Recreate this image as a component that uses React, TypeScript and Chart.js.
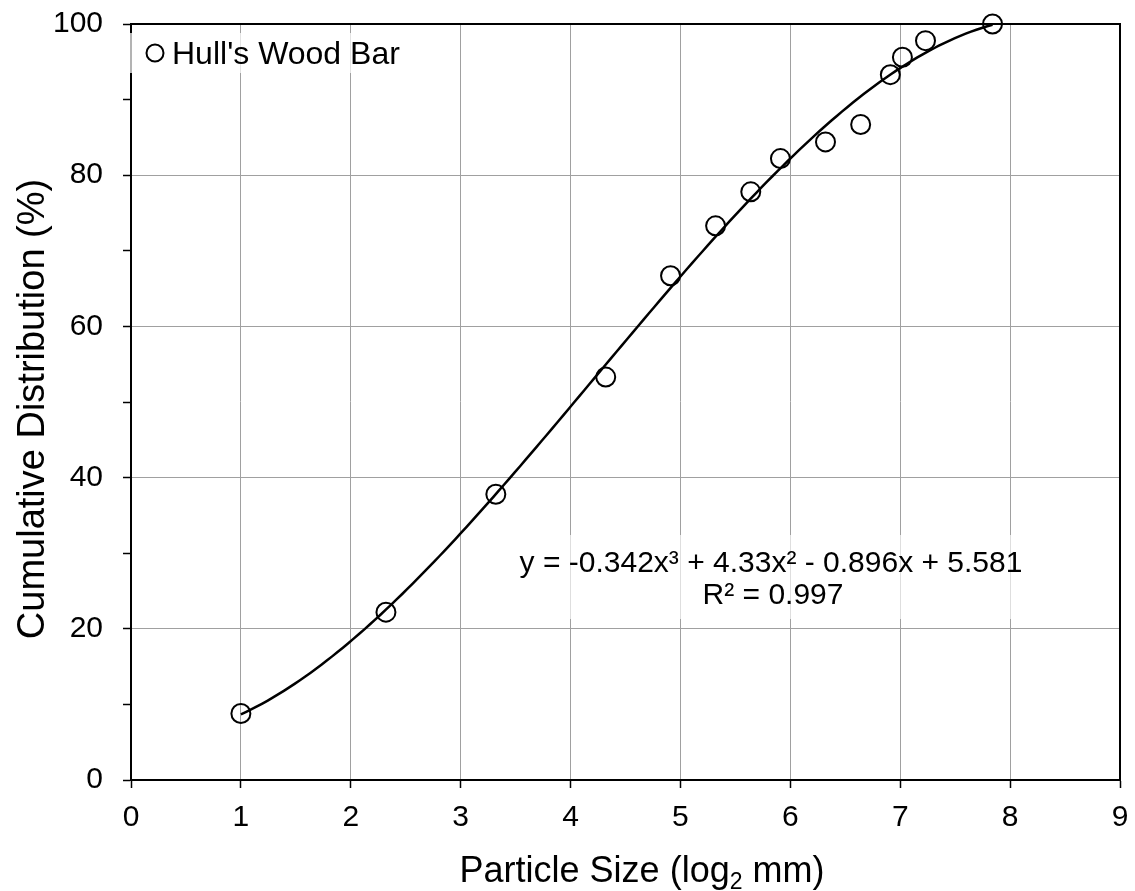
import { useEffect, useRef } from "react";
import { Chart, registerables } from "chart.js";

Chart.register(...registerables);

// Observed data (x = particle size in log2 mm, y = cumulative %)
const particleSize = [1.0, 2.32, 3.32, 4.32, 4.91, 5.32, 5.64, 5.91, 6.32, 6.64, 6.91, 7.02, 7.23, 7.84];
const cumulative = [8.8, 22.2, 37.8, 53.3, 66.7, 73.3, 77.8, 82.2, 84.4, 86.7, 93.3, 95.6, 97.8, 100];

// Trendline as printed on the chart: y = c0 + c1 x + c2 x^2 + c3 x^3
const trendCoeffs = [5.581, -0.896, 4.33, -0.342];
const trendRange = [1.0, 7.84];

const xTickValues = [0, 1, 2, 3, 4, 5, 6, 7, 8, 9];
const yTickLabels = [0, 20, 40, 60, 80, 100];

const seriesName = "Hull's Wood Bar";
const equationText = "y = -0.342x³ + 4.33x² - 0.896x + 5.581";
const r2Text = "R² = 0.997";
const xTitleParts = ["Particle Size (log", "2", " mm)"];
const yTitle = "Cumulative Distribution (%)";

const FONT = "'Liberation Sans', Arial, sans-serif";

function trendPoints() {
  const pts: { x: number; y: number }[] = [];
  const n = 140;
  for (let i = 0; i <= n; i++) {
    const x = trendRange[0] + ((trendRange[1] - trendRange[0]) * i) / n;
    let y = 0;
    for (let k = 0; k < trendCoeffs.length; k++) y += trendCoeffs[k] * Math.pow(x, k);
    pts.push({ x, y });
  }
  return pts;
}

function zeroPadding(s: any) {
  s.paddingTop = 0;
  s.paddingBottom = 0;
  s.paddingLeft = 0;
  s.paddingRight = 0;
}

const overlayPlugin = {
  id: "overlay",
  beforeDatasetsDraw(chart: any) {
    const { ctx } = chart;
    ctx.save();
    ctx.fillStyle = "rgba(255,255,255,0.65)";
    ctx.fillRect(510, 535, 525, 84);
    ctx.fillStyle = "#000";
    ctx.font = `30px ${FONT}`;
    ctx.textAlign = "center";
    ctx.textBaseline = "alphabetic";
    ctx.fillText(equationText, 771, 572);
    ctx.fillText(r2Text, 773, 604);
    ctx.restore();
  },
  afterDraw(chart: any) {
    const { ctx, chartArea } = chart;
    const { left, right, top, bottom } = chartArea;
    ctx.save();
    // top & right frame
    ctx.strokeStyle = "#000";
    ctx.lineWidth = 2;
    ctx.beginPath();
    ctx.moveTo(left - 1, top);
    ctx.lineTo(right, top);
    ctx.lineTo(right, bottom + 1);
    ctx.stroke();

    // legend
    ctx.fillStyle = "rgba(255,255,255,0.7)";
    ctx.fillRect(left - 4, 33, 292, 40);
    ctx.beginPath();
    ctx.arc(155, 53, 8.5, 0, Math.PI * 2);
    ctx.strokeStyle = "#000";
    ctx.lineWidth = 2;
    ctx.stroke();
    ctx.fillStyle = "#000";
    ctx.font = `32px ${FONT}`;
    ctx.textAlign = "left";
    ctx.textBaseline = "alphabetic";
    ctx.fillText(seriesName, 172, 64);

    // x title with subscript
    const mainFont = `36px ${FONT}`;
    const subFont = `23px ${FONT}`;
    ctx.font = mainFont;
    const w0 = ctx.measureText(xTitleParts[0]).width;
    const w2 = ctx.measureText(xTitleParts[2]).width;
    ctx.font = subFont;
    const w1 = ctx.measureText(xTitleParts[1]).width;
    const total = w0 + w1 + w2;
    let x = 642 - total / 2;
    const base = 882;
    ctx.font = mainFont;
    ctx.fillText(xTitleParts[0], x, base);
    x += w0;
    ctx.font = subFont;
    ctx.fillText(xTitleParts[1], x, base + 7);
    x += w1;
    ctx.font = mainFont;
    ctx.fillText(xTitleParts[2], x, base);

    // y title
    ctx.translate(44, 409);
    ctx.rotate(-Math.PI / 2);
    ctx.font = `38px ${FONT}`;
    ctx.textAlign = "center";
    ctx.fillText(yTitle, 0, 0);
    ctx.restore();
  },
};

export default function App() {
  const ref = useRef<HTMLCanvasElement | null>(null);
  useEffect(() => {
    if (!ref.current) return;
    const chart = new Chart(ref.current, {
      type: "scatter",
      data: {
        datasets: [
          {
            label: "trend",
            data: trendPoints(),
            showLine: true,
            pointRadius: 0,
            borderColor: "#000",
            borderWidth: 2.5,
            tension: 0,
          },
          {
            label: seriesName,
            data: particleSize.map((x, i) => ({ x, y: cumulative[i] })),
            pointRadius: 9.5,
            pointStyle: "circle",
            borderColor: "#000",
            borderWidth: 2,
            backgroundColor: "rgba(0,0,0,0)",
            clip: false as any,
          },
        ],
      },
      options: {
        responsive: false,
        animation: false,
        devicePixelRatio: 1,
        layout: { padding: { left: 0, right: 15, top: 24, bottom: 0 } },
        plugins: { legend: { display: false }, tooltip: { enabled: false } },
        scales: {
          x: {
            type: "linear",
            min: xTickValues[0],
            max: xTickValues[xTickValues.length - 1],
            afterBuildTicks: (s: any) => {
              s.ticks = xTickValues.map((v) => ({ value: v }));
            },
            ticks: { color: "#000", font: { family: FONT, size: 30 }, padding: 12 },
            grid: { color: "#a0a0a0", lineWidth: 1, tickLength: 8, tickColor: "#000", tickWidth: 1.5 },
            border: { color: "#000", width: 2 },
            afterFit: (s: any) => {
              s.height = 111;
              zeroPadding(s);
            },
          },
          y: {
            type: "linear",
            min: 0,
            max: 100,
            ticks: {
              stepSize: 10,
              color: "#000",
              font: { family: FONT, size: 30 },
              padding: 20,
              callback: (v: any) => (yTickLabels.includes(Number(v)) ? String(v) : ""),
            },
            grid: {
              color: (c: any) => (c.tick && yTickLabels.includes(c.tick.value) ? "#a0a0a0" : "rgba(0,0,0,0)"),
              lineWidth: 1,
              tickLength: 8,
              tickColor: "#000",
              tickWidth: 1.5,
            },
            border: { color: "#000", width: 2 },
            afterFit: (s: any) => {
              s.width = 131;
              zeroPadding(s);
            },
          },
        },
      },
      plugins: [overlayPlugin],
    });
    return () => chart.destroy();
  }, []);
  return (
    <div style={{ position: "fixed", left: 0, top: 0, width: 1135, height: 891, background: "#fff" }}>
      <canvas ref={ref} width={1135} height={891} />
    </div>
  );
}
